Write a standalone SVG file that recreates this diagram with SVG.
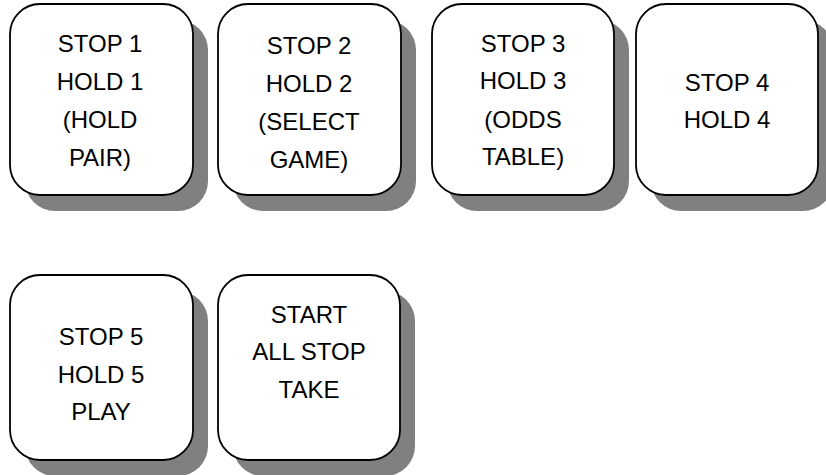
<svg xmlns="http://www.w3.org/2000/svg" width="826" height="475" viewBox="0 0 826 475">
<defs>
<style>
.sh{fill:#808080;stroke:none}
.bx{fill:#fff;stroke:#000;stroke-width:1.8}
text{font-family:"Liberation Sans",Arial,sans-serif;font-size:24px;fill:#000;text-anchor:middle}
</style>
</defs>
<rect width="826" height="475" fill="#fff"/>
<g id="n1">
<rect class="sh" x="25" y="20" width="183" height="191" rx="30"/>
<rect class="bx" x="10" y="4" width="183" height="191" rx="30"/>
<text x="100" y="52">STOP 1</text><text x="100" y="90">HOLD 1</text><text x="100" y="128">(HOLD</text><text x="100" y="166">PAIR)</text>
</g>
<g id="n2">
<rect class="sh" x="233" y="20" width="183" height="191" rx="30"/>
<rect class="bx" x="218" y="4" width="183" height="191" rx="30"/>
<text x="309" y="54">STOP 2</text><text x="309" y="92">HOLD 2</text><text x="309" y="130">(SELECT</text><text x="309" y="168">GAME)</text>
</g>
<g id="n3">
<rect class="sh" x="447" y="20" width="182" height="191" rx="30"/>
<rect class="bx" x="432" y="4" width="182" height="191" rx="30"/>
<text x="523" y="52">STOP 3</text><text x="523" y="89">HOLD 3</text><text x="523" y="128">(ODDS</text><text x="523" y="165">TABLE)</text>
</g>
<g id="n4">
<rect class="sh" x="651" y="20" width="182" height="191" rx="30"/>
<rect class="bx" x="636" y="4" width="182" height="191" rx="30"/>
<text x="727" y="91">STOP 4</text><text x="727" y="128">HOLD 4</text>
</g>
<g id="n5">
<rect class="sh" x="25" y="291" width="183" height="185" rx="30"/>
<rect class="bx" x="10" y="275" width="183" height="185" rx="30"/>
<text x="101" y="345">STOP 5</text><text x="101" y="383">HOLD 5</text><text x="101" y="420">PLAY</text>
</g>
<g id="n6">
<rect class="sh" x="233" y="291" width="182" height="185" rx="30"/>
<rect class="bx" x="218" y="275" width="182" height="185" rx="30"/>
<text x="309" y="323">START</text><text x="309" y="360">ALL STOP</text><text x="309" y="398">TAKE</text>
</g>
<g id="connectors"/>
</svg>
